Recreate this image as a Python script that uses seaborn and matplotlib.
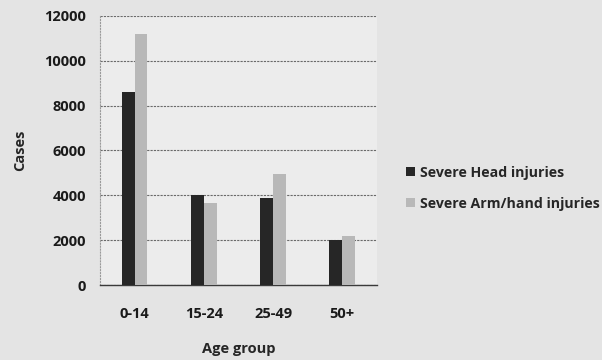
import pandas as pd
import seaborn as sns
import matplotlib
matplotlib.use('Agg')
import matplotlib.pyplot as plt

# values
ageGroups = ['0-14', '15-24', '25-49', '50+']
headInjuries = [8600, 4000, 3900, 2000]
armInjuries = [11200, 3650, 4950, 2200]
seriesNames = ['Severe Head injuries', 'Severe Arm/hand injuries']

frame = pd.DataFrame({
    'age': ageGroups * 2,
    'cases': headInjuries + armInjuries,
    'series': [seriesNames[0]] * 4 + [seriesNames[1]] * 4,
})

sns.set_style('white')
plt.rcParams['font.family'] = ['Open Sans', 'DejaVu Sans']
plt.rcParams['font.weight'] = 'bold'

bg = '#e4e4e4'
fig = plt.figure(figsize=(6.02, 3.6), dpi=100, facecolor=bg)
ax = fig.add_axes([0.166, 0.208, 0.46, 0.748])
ax.set_facecolor('#ececec')

sns.barplot(data=frame, x='age', y='cases', hue='series', ax=ax,
            palette=['#262626', '#b8b8b8'], width=0.37, saturation=1,
            edgecolor='none', zorder=3)

ax.set_ylim(0, 12000)
ax.set_xlim(-0.5, 3.5)
ax.set_yticks(range(0, 12001, 2000))
ax.yaxis.grid(True, color='#6a6a6a', linestyle=(0, (2, 1)), linewidth=0.8, zorder=0)
ax.tick_params(axis='y', length=0, labelsize=10.5, pad=10, colors='#1a1a1a')
ax.tick_params(axis='x', length=0, labelsize=10.5, pad=16, colors='#1a1a1a')
for lab in ax.get_xticklabels() + ax.get_yticklabels():
    lab.set_fontweight('bold')

for side in ['top', 'right']:
    ax.spines[side].set_visible(False)
ax.spines['left'].set_color('#9a9a9a')
ax.spines['left'].set_linestyle(':')
ax.spines['bottom'].set_color('#3a3a3a')
ax.spines['bottom'].set_linewidth(1.0)

ax.set_xlabel('Age group', fontsize=10.5, fontweight='bold', labelpad=15)
ax.set_ylabel('Cases', fontsize=10.5, fontweight='bold', labelpad=12)

handles, labels = ax.get_legend_handles_labels()
ax.legend(handles, labels, loc='center left', bbox_to_anchor=(1.06, 0.36),
          frameon=False, handlelength=0.6, handleheight=0.6,
          handletextpad=0.4, labelspacing=1.2, prop={'weight': 'bold', 'size': 10.2})

plt.savefig('out.png', dpi=100, facecolor=bg)
